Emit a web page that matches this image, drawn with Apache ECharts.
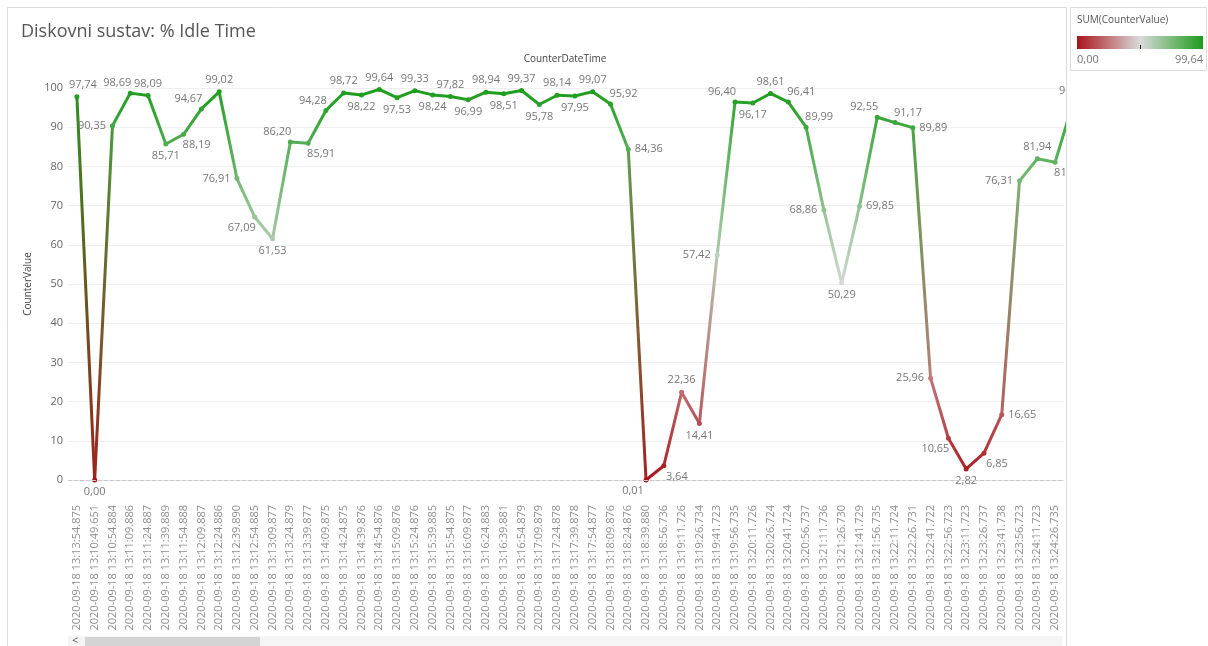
<!DOCTYPE html>
<html>
<head>
<meta charset="utf-8">
<title>Diskovni sustav: % Idle Time</title>
<script src="https://cdn.jsdelivr.net/npm/echarts@6/dist/echarts.min.js"></script>
<style>
	html, body { margin: 0; padding: 0; background: #fff; }
	#chart { width: 1208px; height: 646px; }
</style>
</head>
<body>
<div id="chart"></div>
<script type="text/javascript">
	// CounterDateTime (order as shown in the view)
	var categories = [
		'2020-09-18 13:13:54.875', '2020-09-18 13:10:49.651', '2020-09-18 13:10:54.884', '2020-09-18 13:11:09.886',
		'2020-09-18 13:11:24.887', '2020-09-18 13:11:39.889', '2020-09-18 13:11:54.888', '2020-09-18 13:12:09.887',
		'2020-09-18 13:12:24.886', '2020-09-18 13:12:39.890', '2020-09-18 13:12:54.885', '2020-09-18 13:13:09.877',
		'2020-09-18 13:13:24.879', '2020-09-18 13:13:39.877', '2020-09-18 13:14:09.875', '2020-09-18 13:14:24.875',
		'2020-09-18 13:14:39.876', '2020-09-18 13:14:54.876', '2020-09-18 13:15:09.876', '2020-09-18 13:15:24.876',
		'2020-09-18 13:15:39.885', '2020-09-18 13:15:54.875', '2020-09-18 13:16:09.877', '2020-09-18 13:16:24.883',
		'2020-09-18 13:16:39.881', '2020-09-18 13:16:54.879', '2020-09-18 13:17:09.879', '2020-09-18 13:17:24.878',
		'2020-09-18 13:17:39.878', '2020-09-18 13:17:54.877', '2020-09-18 13:18:09.876', '2020-09-18 13:18:24.876',
		'2020-09-18 13:18:39.880', '2020-09-18 13:18:56.736', '2020-09-18 13:19:11.726', '2020-09-18 13:19:26.734',
		'2020-09-18 13:19:41.723', '2020-09-18 13:19:56.735', '2020-09-18 13:20:11.726', '2020-09-18 13:20:26.724',
		'2020-09-18 13:20:41.724', '2020-09-18 13:20:56.737', '2020-09-18 13:21:11.736', '2020-09-18 13:21:26.730',
		'2020-09-18 13:21:41.729', '2020-09-18 13:21:56.735', '2020-09-18 13:22:11.724', '2020-09-18 13:22:26.731',
		'2020-09-18 13:22:41.722', '2020-09-18 13:22:56.723', '2020-09-18 13:23:11.723', '2020-09-18 13:23:26.737',
		'2020-09-18 13:23:41.738', '2020-09-18 13:23:56.723', '2020-09-18 13:24:11.723', '2020-09-18 13:24:26.735',
		'2020-09-18 13:24:41.735'
	];

	// CounterValue (% Idle Time)
	var idleValues = [
		97.74, 0.00, 90.35, 98.69, 98.09, 85.71, 88.19, 94.67, 99.02, 76.91,
		67.09, 61.53, 86.20, 85.91, 94.28, 98.72, 98.22, 99.64, 97.53, 99.33,
		98.24, 97.82, 96.99, 98.94, 98.51, 99.37, 95.78, 98.14, 97.95, 99.07,
		95.92, 84.36, 0.01, 3.64, 22.36, 14.41, 57.42, 96.40, 96.17, 98.61,
		96.41, 89.99, 68.86, 50.29, 69.85, 92.55, 91.17, 89.89, 25.96, 10.65,
		2.82, 6.85, 16.65, 76.31, 81.94, 81.05, 96.10
	];

	// where each value label sits relative to its point
	var labelPlace = [
		'ts', 'b', 'l', 'tl', 't', 'b', 'br', 'tl', 't', 'l',
		'bl', 'b', 'tl', 'br', 'tl', 't', 'b', 't', 'b', 't',
		'b', 't', 'b', 't', 'b', 't', 'b', 't', 'b', 't',
		'tr', 'r', 'bl', 'br', 't', 'b', 'l', 'tl', 'b', 't',
		'tr', 'tr', 'l', 'b', 'r', 'tl', 'tr', 'r', 'l', 'bl',
		'b', 'br', 'r', 'l', 't', 'br', 't'
	];

	var yTicks = [0, 100, 10];
	var colorRange = ['#a8141a', '#dadada', '#1c9c1c'];

	function fmt(v) {
		return v.toFixed(2).replace('.', ',');
	}

	var vMin = Math.min.apply(null, idleValues);
	var vMax = Math.max.apply(null, idleValues);

	// diverging colour scale red - grey - green
	function hexRgb(h) {
		return [parseInt(h.substr(1, 2), 16), parseInt(h.substr(3, 2), 16), parseInt(h.substr(5, 2), 16)];
	}
	function valueColor(v) {
		var t = Math.max(0, Math.min(1, (v - vMin) / (vMax - vMin)));
		var a, b, k;
		if (t < 0.5) { a = hexRgb(colorRange[0]); b = hexRgb(colorRange[1]); k = t / 0.5; }
		else { a = hexRgb(colorRange[1]); b = hexRgb(colorRange[2]); k = (t - 0.5) / 0.5; }
		return 'rgb(' + [0, 1, 2].map(function (j) { return Math.round(a[j] + (b[j] - a[j]) * k); }).join(',') + ')';
	}

	var placeMap = {
		t:  { position: 'top', offset: [0, 0] },
		ts: { position: 'top', offset: [6, 0] },
		b:  { position: 'bottom', offset: [0, 0] },
		l:  { position: 'left', offset: [0, 0] },
		r:  { position: 'right', offset: [0, 0] },
		tl: { position: 'top', offset: [-13, 2] },
		tr: { position: 'top', offset: [13, 2] },
		bl: { position: 'bottom', offset: [-13, -1] },
		br: { position: 'bottom', offset: [13, -1] }
	};

	var pointData = idleValues.map(function (v, i) {
		var p = placeMap[labelPlace[i]];
		return {
			value: v,
			itemStyle: { color: valueColor(v) },
			label: { position: p.position, offset: p.offset }
		};
	});

	// one short series per segment so each gets its own end-to-end colour blend
	var segmentSeries = [];
	for (var i = 0; i < idleValues.length - 1; i++) {
		var segData = idleValues.map(function () { return null; });
		segData[i] = idleValues[i];
		segData[i + 1] = idleValues[i + 1];
		segmentSeries.push({
			type: 'line',
			data: segData,
			clip: false,
			showSymbol: false,
			silent: true,
			z: 2,
			lineStyle: {
				width: 3,
				color: {
					type: 'linear', x: 0, y: 0, x2: 1, y2: 0,
					colorStops: [
						{ offset: 0, color: valueColor(idleValues[i]) },
						{ offset: 1, color: valueColor(idleValues[i + 1]) }
					]
				}
			}
		});
	}

	var font = 'Open Sans';
	var myChart = echarts.init(document.getElementById('chart'));
	var option = {
		backgroundColor: '#fff',
		animation: false,
		textStyle: { fontFamily: font },
		title: {
			text: 'Diskovni sustav: % Idle Time',
			left: 16, top: 18,
			textStyle: { fontSize: 18, fontWeight: 'normal', color: '#555', fontFamily: font }
		},
		grid: { left: 68, right: 144, top: 88, bottom: 166 },
		dataZoom: [{
			type: 'inside', xAxisIndex: 0, filterMode: 'none',
			startValue: 0, endValue: 55, zoomLock: true, zoomOnMouseWheel: false, moveOnMouseWheel: false, moveOnMouseMove: false
		}],
		xAxis: {
			type: 'category',
			data: categories,
			boundaryGap: true,
			offset: 20,
			axisLine: { lineStyle: { color: '#e4e4e4' } },
			axisTick: { show: false },
			axisLabel: { rotate: 90, interval: 0, fontSize: 11, color: '#8f8f8f', margin: 5 }
		},
		yAxis: {
			type: 'value',
			min: yTicks[0], max: yTicks[1], interval: yTicks[2],
			name: 'CounterValue', nameLocation: 'middle', nameGap: 33, nameRotate: 90,
			nameTextStyle: { fontSize: 10, color: '#444' },
			axisLine: { show: false },
			axisTick: { show: false },
			axisLabel: { fontSize: 11, color: '#666', margin: 5 },
			splitLine: { lineStyle: { color: '#efefef' } }
		},
		series: segmentSeries.concat([{
			type: 'line',
			data: pointData,
			clip: false,
			z: 3,
			symbol: 'circle',
			symbolSize: 5,
			lineStyle: { width: 0, opacity: 0 },
			label: {
				show: true, fontSize: 11, color: '#777', distance: 4,
				formatter: function (p) { return fmt(p.value); }
			},
			markLine: {
				silent: true, symbol: 'none', label: { show: false },
				lineStyle: { color: '#c8c8c8', type: 'dashed', width: 1 },
				data: [{ yAxis: 0 }]
			}
		}]),
		graphic: [
			// cover whatever runs past the view's right edge
			{ type: 'rect', z: 100, shape: { x: 1067, y: 0, width: 141, height: 646 }, style: { fill: '#fff' } },
			// panel frame
			{ type: 'line', z: 101, shape: { x1: 7.5, y1: 7.5, x2: 1066.5, y2: 7.5 }, style: { stroke: '#dcdcdc' } },
			{ type: 'line', z: 101, shape: { x1: 7.5, y1: 7.5, x2: 7.5, y2: 646 }, style: { stroke: '#dcdcdc' } },
			{ type: 'line', z: 101, shape: { x1: 1066.5, y1: 7.5, x2: 1066.5, y2: 646 }, style: { stroke: '#dcdcdc' } },
			// axis title on top
			{ type: 'text', x: 565, y: 59, style: { text: 'CounterDateTime', fontSize: 10, fill: '#444', align: 'center', verticalAlign: 'middle', fontFamily: font } },
			// scrollbar
			{ type: 'rect', shape: { x: 68, y: 636, width: 994, height: 12 }, style: { fill: '#f5f5f5' } },
			{ type: 'rect', shape: { x: 85, y: 637, width: 175, height: 11 }, style: { fill: '#d4d4d4' } },
			{ type: 'text', x: 72, y: 641, style: { text: '<', fontSize: 11, fill: '#555', verticalAlign: 'middle', fontFamily: font } },
			// colour legend
			{ type: 'rect', z: 101, shape: { x: 1070.5, y: 7.5, width: 136, height: 63 }, style: { fill: '#fff', stroke: '#dcdcdc' } },
			{ type: 'text', z: 102, x: 1077, y: 20, style: { text: 'SUM(CounterValue)', fontSize: 10, fill: '#555', verticalAlign: 'middle', fontFamily: font } },
			{
				type: 'rect', z: 102, shape: { x: 1077, y: 36, width: 126, height: 13 },
				style: {
					fill: {
						type: 'linear', x: 0, y: 0, x2: 1, y2: 0,
						colorStops: [
							{ offset: 0, color: colorRange[0] },
							{ offset: 0.5, color: colorRange[1] },
							{ offset: 1, color: colorRange[2] }
						]
					}
				}
			},
			{ type: 'line', z: 102, shape: { x1: 1140.5, y1: 45, x2: 1140.5, y2: 49 }, style: { stroke: '#222', lineWidth: 1 } },
			{ type: 'text', z: 102, x: 1077, y: 60, style: { text: fmt(vMin), fontSize: 11, fill: '#777', verticalAlign: 'middle', fontFamily: font } },
			{ type: 'text', z: 102, x: 1203, y: 60, style: { text: fmt(vMax), fontSize: 11, fill: '#777', align: 'right', verticalAlign: 'middle', fontFamily: font } }
		]
	};
	myChart.setOption(option);
</script>
</body>
</html>
